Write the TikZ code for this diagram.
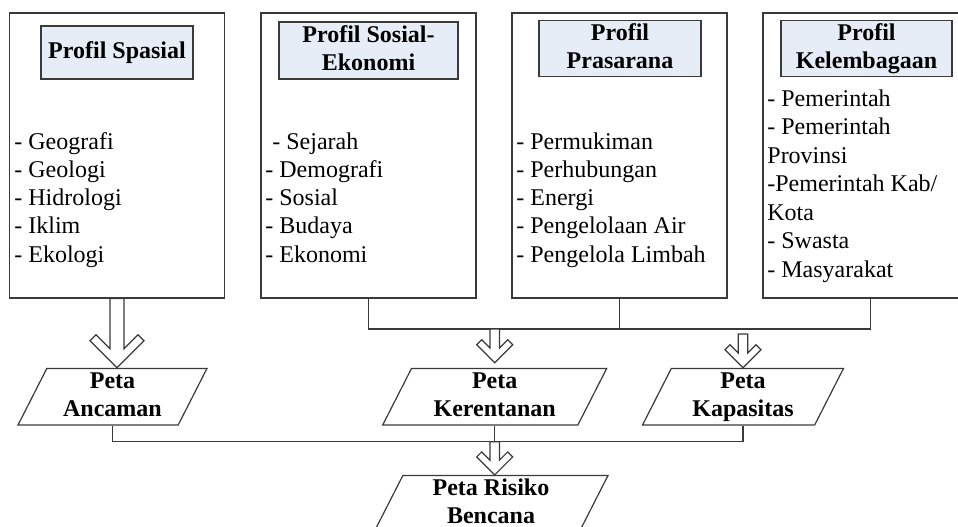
\documentclass[tikz,border=0pt]{standalone}
\usepackage{fontspec}
\setmainfont{Liberation Serif}
\usetikzlibrary{calc,shapes.geometric}
\definecolor{ink}{HTML}{3A3A3A}
\definecolor{headfill}{HTML}{E7EDF7}

\newcommand{\hollowdown}[5]{%
  \draw[hollow] let \p1=#1, \p2=#2 in
    (\x2-#3,\y1) -- (\x2-#3,\y2+#3+2*#5) -- (\x2-#4+#5,\y2+#4+#5)
    -- (\x2-#4,\y2+#4) -- (\x2,\y2) -- (\x2+#4,\y2+#4)
    -- (\x2+#4-#5,\y2+#4+#5) -- (\x2+#3,\y2+#3+2*#5) -- (\x2+#3,\y1) -- cycle;}

\begin{document}
\begin{tikzpicture}[x=0.5pt,y=-0.5pt,
    every node/.style={font=\fontsize{12}{14.15}\selectfont,inner sep=0pt},
    panel/.style={draw=ink,line width=0.6pt,minimum width=107.5pt,minimum height=142.5pt},
    head/.style={draw=ink,line width=0.6pt,fill=headfill,align=center,
                 font=\fontsize{12}{14.15}\selectfont\bfseries},
    items/.style={anchor=base west,align=left},
    peta/.style={trapezium,trapezium left angle=63,trapezium right angle=117,
                 trapezium stretches body,minimum height=26.5pt,draw=ink,line width=0.6pt,
                 align=center,font=\fontsize{12}{14.15}\selectfont\bfseries},
    link/.style={draw=ink,line width=0.6pt},
    hollow/.style={draw=ink,line width=0.6pt,fill=white,line join=miter}]
  \useasboundingbox (0,0) rectangle (958,526);

  \node[panel] (spasial) at (117,155.5) {};
  \node[panel] (sosial) at (368.5,155.5) {};
  \node[panel] (prasarana) at (619.5,155.5) {};
  \node[panel] (kelembagaan) at (870.5,155.5) {};

  \node[head,minimum width=76pt,minimum height=26.5pt] (hspasial) at (117,52.5) {Profil Spasial};
  \node[head,minimum width=89.5pt,minimum height=28.5pt] (hsosial) at (368.5,50.5) {\strut Profil Sosial-\\Ekonomi\strut};
  \node[head,minimum width=81pt,minimum height=26.5pt] (hprasarana) at (620,48.5) {\strut Profil\\Prasarana\strut};
  \node[head,minimum width=85.5pt,minimum height=26.5pt] (hkelembagaan) at (866.5,48.5) {\strut Profil\\Kelembagaan\strut};

  \node[items] (lspasial) at (14,262.2) {- Geografi\\- Geologi\\- Hidrologi\\- Iklim\\- Ekologi};
  \node[items] (lsosial) at (265,262.2) {\hspace*{3.5pt}- Sejarah\\- Demografi\\- Sosial\\- Budaya\\- Ekonomi};
  \node[items] (lprasarana) at (516,262.2) {- Permukiman\\- Perhubungan\\- Energi\\- Pengelolaan Air\\- Pengelola Limbah};
  \node[items,font=\fontsize{12}{14.25}\selectfont] (lkelembagaan) at (767,277)
    {- Pemerintah\\- Pemerintah\\Provinsi\\-Pemerintah Kab/\\Kota\\- Swasta\\- Masyarakat};

  \node[peta,minimum width=94.5pt] (ancaman) at (112.5,396.7) {\strut Peta\\Ancaman\strut};
  \node[peta,minimum width=112pt] (kerentanan) at (494.7,396.7) {\strut Peta\\Kerentanan\strut};
  \node[peta,minimum width=100.5pt] (kapasitas) at (743,396.7) {\strut Peta\\Kapasitas\strut};
  \node[peta,minimum width=117pt] (risiko) at (491,503.8) {\strut Peta Risiko\\Bencana\strut};

  \coordinate (row1) at (0,329);
  \coordinate (row2) at (0,441.7);
  \draw[link] (sosial.south) -- (sosial.south |- row1) -- (kelembagaan.south |- row1) -- (kelembagaan.south);
  \draw[link] (prasarana.south) -- (prasarana.south |- row1);
  \draw[link] (ancaman.south) -- (ancaman.south |- row2) -- (kapasitas.south |- row2) -- (kapasitas.south);
  \draw[link] (kerentanan.south) -- (kerentanan.south |- row2);

  \hollowdown{(spasial.south)}{(spasial.south |- ancaman.north)}{3.5pt}{13.5pt}{3pt}
  \hollowdown{(kerentanan.north |- row1)}{($(kerentanan.north)+(0,-5)$)}{2.4pt}{9pt}{2.5pt}
  \hollowdown{($(kapasitas.north |- row1)+(0,5)$)}{(kapasitas.north)}{2.4pt}{9pt}{2.5pt}
  \hollowdown{(kerentanan.south |- row2)}{(kerentanan.south |- risiko.north)}{2.4pt}{9pt}{2.5pt}
\end{tikzpicture}
\end{document}
